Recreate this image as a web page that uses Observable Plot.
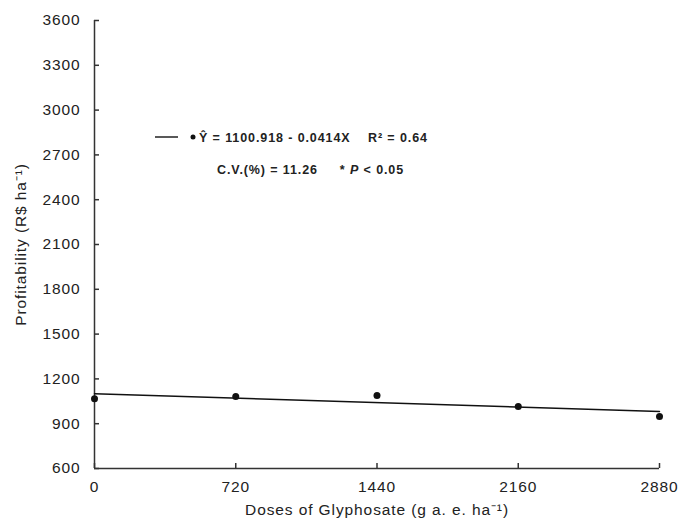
<!DOCTYPE html>
<html>
<head>
<meta charset="utf-8">
<script src="https://cdn.jsdelivr.net/npm/d3@7"></script>
<script src="https://cdn.jsdelivr.net/npm/@observablehq/plot@0.6"></script>
<style>
  body { margin: 0; background: #fff; }
  #wrap { position: relative; width: 678px; height: 525px; font-family: "Liberation Sans", Arial, sans-serif; }
  #legend { position: absolute; left: 155px; top: 122px; font-size: 12.5px; font-weight: bold; letter-spacing: 0.9px; color: #222; line-height: 32px; white-space: nowrap; }
  #legend .row2 { padding-left: 62px; }
  #chart svg text { letter-spacing: 0.9px; }
</style>
</head>
<body>
<div id="wrap">
  <div id="chart"></div>
  <div id="legend">
    <div><svg width="44" height="12" style="vertical-align:-1px"><line x1="0" y1="6" x2="23" y2="6" stroke="#222" stroke-width="1.5"/><circle cx="38" cy="6" r="2.5" fill="#111"/></svg>Ŷ = 1100.918 - 0.0414X&nbsp;&nbsp;&nbsp; R² = 0.64</div>
    <div class="row2">C.V.(%) = 11.26 &nbsp;&nbsp;&nbsp; * <i>P</i> &lt; 0.05</div>
  </div>
</div>
<script>
const doses = [0, 720, 1440, 2160, 2880];
const profit = [1067, 1082, 1089, 1015, 948];
const intercept = 1100.918;
const slope = -0.0414;
const xTicks = [0, 720, 1440, 2160, 2880];
const yTicks = [600, 900, 1200, 1500, 1800, 2100, 2400, 2700, 3000, 3300, 3600];

const points = doses.map((d, i) => ({dose: d, value: profit[i]}));
const fit = [0, 2880].map(d => ({dose: d, value: intercept + slope * d}));
const fmt = d3.format("d");

const chart = Plot.plot({
  width: 678,
  height: 525,
  marginLeft: 94,
  marginRight: 19,
  marginTop: 20,
  marginBottom: 57,
  style: {fontFamily: "Liberation Sans, Arial, sans-serif", fontSize: "15.5px", color: "#222", background: "#fff"},
  x: {domain: [0, 2880]},
  y: {domain: [600, 3600]},
  marks: [
    Plot.axisY(yTicks, {tickSize: 0, tickPadding: 14, tickFormat: fmt, label: "Profitability (R$ ha⁻¹)", labelAnchor: "center", labelArrow: "none", labelOffset: 80, fontSize: 15.5}),
    Plot.axisY(yTicks, {tickSize: -5, text: null, label: null, stroke: "#333", strokeWidth: 1.5}),
    Plot.axisX(xTicks, {tickSize: 0, tickPadding: 12, tickFormat: fmt, label: "Doses of Glyphosate (g a. e. ha⁻¹)", labelAnchor: "center", labelArrow: "none", labelOffset: 46, fontSize: 15.5}),
    Plot.axisX(xTicks, {tickSize: -5, text: null, label: null, stroke: "#333", strokeWidth: 1.5}),
    Plot.ruleX([0], {stroke: "#333", strokeWidth: 1.5}),
    Plot.ruleY([600], {stroke: "#333", strokeWidth: 1.5}),
    Plot.line(fit, {x: "dose", y: "value", stroke: "#111", strokeWidth: 1.5}),
    Plot.dot(points, {x: "dose", y: "value", r: 3.5, fill: "#111", stroke: "none"})
  ]
});
document.getElementById("chart").appendChild(chart);
</script>
</body>
</html>
